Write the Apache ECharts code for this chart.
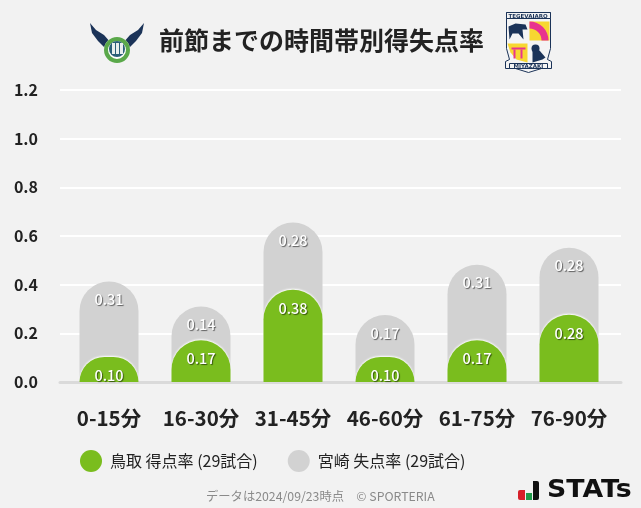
<!DOCTYPE html>
<html><head><meta charset="utf-8">
<style>html,body{margin:0;padding:0;background:#f2f2f2}#c{width:641px;height:508px}</style>
<script src="https://cdn.jsdelivr.net/npm/echarts@6/dist/echarts.min.js"></script></head>
<body><div id="c"></div>
<script>
const categories = ['0-15分','16-30分','31-45分','46-60分','61-75分','76-90分'];
const scoredRate = [0.103,0.172,0.379,0.103,0.172,0.276];
const concededRate = [0.310,0.138,0.276,0.172,0.310,0.276];
const scoredName = '鳥取 得点率 (29試合)';
const concededName = '宮崎 失点率 (29試合)';
const titleText = '前節までの時間帯別得失点率';
const footerText = 'データは2024/09/23時点　© SPORTERIA';
const FONT = '"Noto Sans CJK JP","Noto Sans",sans-serif';
const GREEN = '#7abd1e', GREY = '#d2d2d2', NAVY = '#1b3358', PINK = '#e8338f', YEL = '#f7d731';
const stackedTop = scoredRate.map((v,i)=>v+concededRate[i]);
const labelStyle = {show:true,position:'insideTop',distance:11,color:'#fff',fontFamily:FONT,fontSize:14.5,fontWeight:500,
  textShadowColor:'rgba(0,0,0,.55)',textShadowBlur:1,textShadowOffsetX:1,textShadowOffsetY:1};
const chart = echarts.init(document.getElementById('c'),null,{renderer:'canvas'});
chart.setOption({
  animation:false,
  backgroundColor:'#f2f2f2',
  textStyle:{fontFamily:FONT},
  grid:[{left:60,right:20,top:90,bottom:126},{left:63,right:26,top:90,bottom:126}],
  xAxis:[
    {gridIndex:0,type:'category',data:[],axisLine:{lineStyle:{color:'#dadada',width:3}},axisTick:{show:false},axisLabel:{show:false}},
    {gridIndex:1,type:'category',data:categories,axisLine:{show:false},axisTick:{show:false},
     axisLabel:{interval:0,color:'#222',fontSize:20.5,fontWeight:700,margin:26,fontFamily:FONT,hideOverlap:false}}
  ],
  yAxis:[
    {gridIndex:0,type:'value',min:0,max:1.2,interval:0.2,axisLine:{show:false},axisTick:{show:false},
     splitLine:{lineStyle:{color:'#fff',width:2}},
     axisLabel:{color:'#222',fontSize:16,fontWeight:700,margin:22,padding:[0,0,4,0],fontFamily:FONT,formatter:v=>v.toFixed(1)}},
    {gridIndex:1,type:'value',min:0,max:1.2,interval:0.2,show:false,splitLine:{show:false}}
  ],
  legend:{left:75,top:445,itemWidth:22,itemHeight:22,itemGap:30,icon:'circle',
    textStyle:{color:'#222',fontSize:16,fontFamily:FONT,padding:[0,0,0,3]},
    data:[scoredName,concededName]},
  series:[
    {name:concededName,type:'bar',xAxisIndex:1,yAxisIndex:1,data:stackedTop,barWidth:59,barGap:'-100%',
     itemStyle:{color:GREY,borderRadius:[30,30,0,0]},
     label:{...labelStyle,formatter:p=>concededRate[p.dataIndex].toFixed(2)},z:2},
    {name:scoredName,type:'bar',xAxisIndex:1,yAxisIndex:1,data:scoredRate,barWidth:59,barGap:'-100%',
     itemStyle:{color:GREEN,borderRadius:[30,30,0,0],shadowColor:'#fff',shadowBlur:2,shadowOffsetY:-1},
     label:{...labelStyle,formatter:p=>p.value.toFixed(2)},z:3}
  ],
  graphic:[
    {type:'text',left:159,top:28,style:{text:titleText,font:'700 25px '+FONT,fill:'#222'}},
    {type:'text',left:206,top:490,style:{text:footerText,font:'400 12.3px '+FONT,fill:'#8a8a8a'}},
    // Tottori crest
    {type:'group',left:90,top:23,children:[
      {type:'polygon',shape:{points:[[0,0],[6,7],[14,12],[21,20],[33,20],[40,12],[48,7],[54,0],[52,10],[46,18],[38,26],[30,24],[24,24],[16,26],[8,18],[2,10]]},style:{fill:NAVY}},
      {type:'circle',shape:{cx:27,cy:27,r:13},style:{fill:'#ffffff'}},
      {type:'ring',shape:{cx:27,cy:27,r:13,r0:9},style:{fill:'#5aa84a'}},
      {type:'circle',shape:{cx:27,cy:26,r:8},style:{fill:'#2a5f78'}},
      {type:'rect',shape:{x:22,y:20,width:3,height:11},style:{fill:'#e8eeee'}},
      {type:'rect',shape:{x:26,y:20,width:3,height:11},style:{fill:'#e8eeee'}},
      {type:'rect',shape:{x:30,y:20,width:3,height:11},style:{fill:'#e8eeee'}}
    ]},
    // Miyazaki crest
    {type:'group',left:505,top:12,children:[
      {type:'polygon',shape:{points:[[1,0],[45,0],[45,36],[42,47],[46,49],[46,56],[36,56],[23,60],[10,56],[0,56],[0,49],[4,47],[1,36]]},style:{fill:'#f4f4f4',stroke:NAVY,lineWidth:1}},
      {type:'rect',shape:{x:1,y:0,width:44,height:6},style:{fill:'#f4f4f4',stroke:NAVY,lineWidth:1}},
      {type:'text',left:3,top:1,style:{text:'TEGEVAJARO',font:'700 5.5px "DejaVu Sans"',fill:NAVY}},
      {type:'rect',shape:{x:24,y:9,width:20,height:19},style:{fill:YEL}},
      {type:'sector',shape:{cx:24,cy:28,r:19,r0:12,startAngle:-Math.PI/2,endAngle:0},style:{fill:PINK}},
      {type:'polygon',shape:{points:[[3,14],[10,11],[20,12],[22,17],[17,17],[18,27],[13,21],[7,21],[4,27]]},style:{fill:NAVY}},
      {type:'polygon',shape:{points:[[2,31],[22,31],[22,50],[11,47],[5,40]]},style:{fill:YEL}},
      {type:'rect',shape:{x:6,y:35,width:14,height:2},style:{fill:PINK}},
      {type:'rect',shape:{x:8,y:37,width:2,height:9},style:{fill:PINK}},
      {type:'rect',shape:{x:15,y:37,width:2,height:9},style:{fill:PINK}},
      {type:'circle',shape:{cx:30,cy:36,r:4},style:{fill:NAVY}},
      {type:'polygon',shape:{points:[[27,38],[34,38],[40,45],[37,47],[27,50]]},style:{fill:NAVY}},
      {type:'rect',shape:{x:4,y:51,width:38,height:5},style:{fill:'#f4f4f4',stroke:NAVY,lineWidth:1}},
      {type:'text',left:8,top:51,style:{text:'MIYAZAKI',font:'700 5.5px "DejaVu Sans"',fill:NAVY}}
    ]},
    // STATs logo
    {type:'group',left:518,top:478,children:[
      {type:'rect',shape:{x:0,y:9,width:7,height:10,r:[2,0,0,2]},style:{fill:'#d6202a'}},
      {type:'rect',shape:{x:8,y:12,width:6,height:7},style:{fill:'#1f9a4a'}},
      {type:'rect',shape:{x:15,y:0,width:6,height:19,r:[0,2,2,0]},style:{fill:'#111'}},
      {type:'text',x:29,y:-3,scaleX:1.07,style:{text:'STATs',font:'700 25px "DejaVu Sans",sans-serif',fill:'#111'}}
    ]}
  ]
});
</script></body></html>
